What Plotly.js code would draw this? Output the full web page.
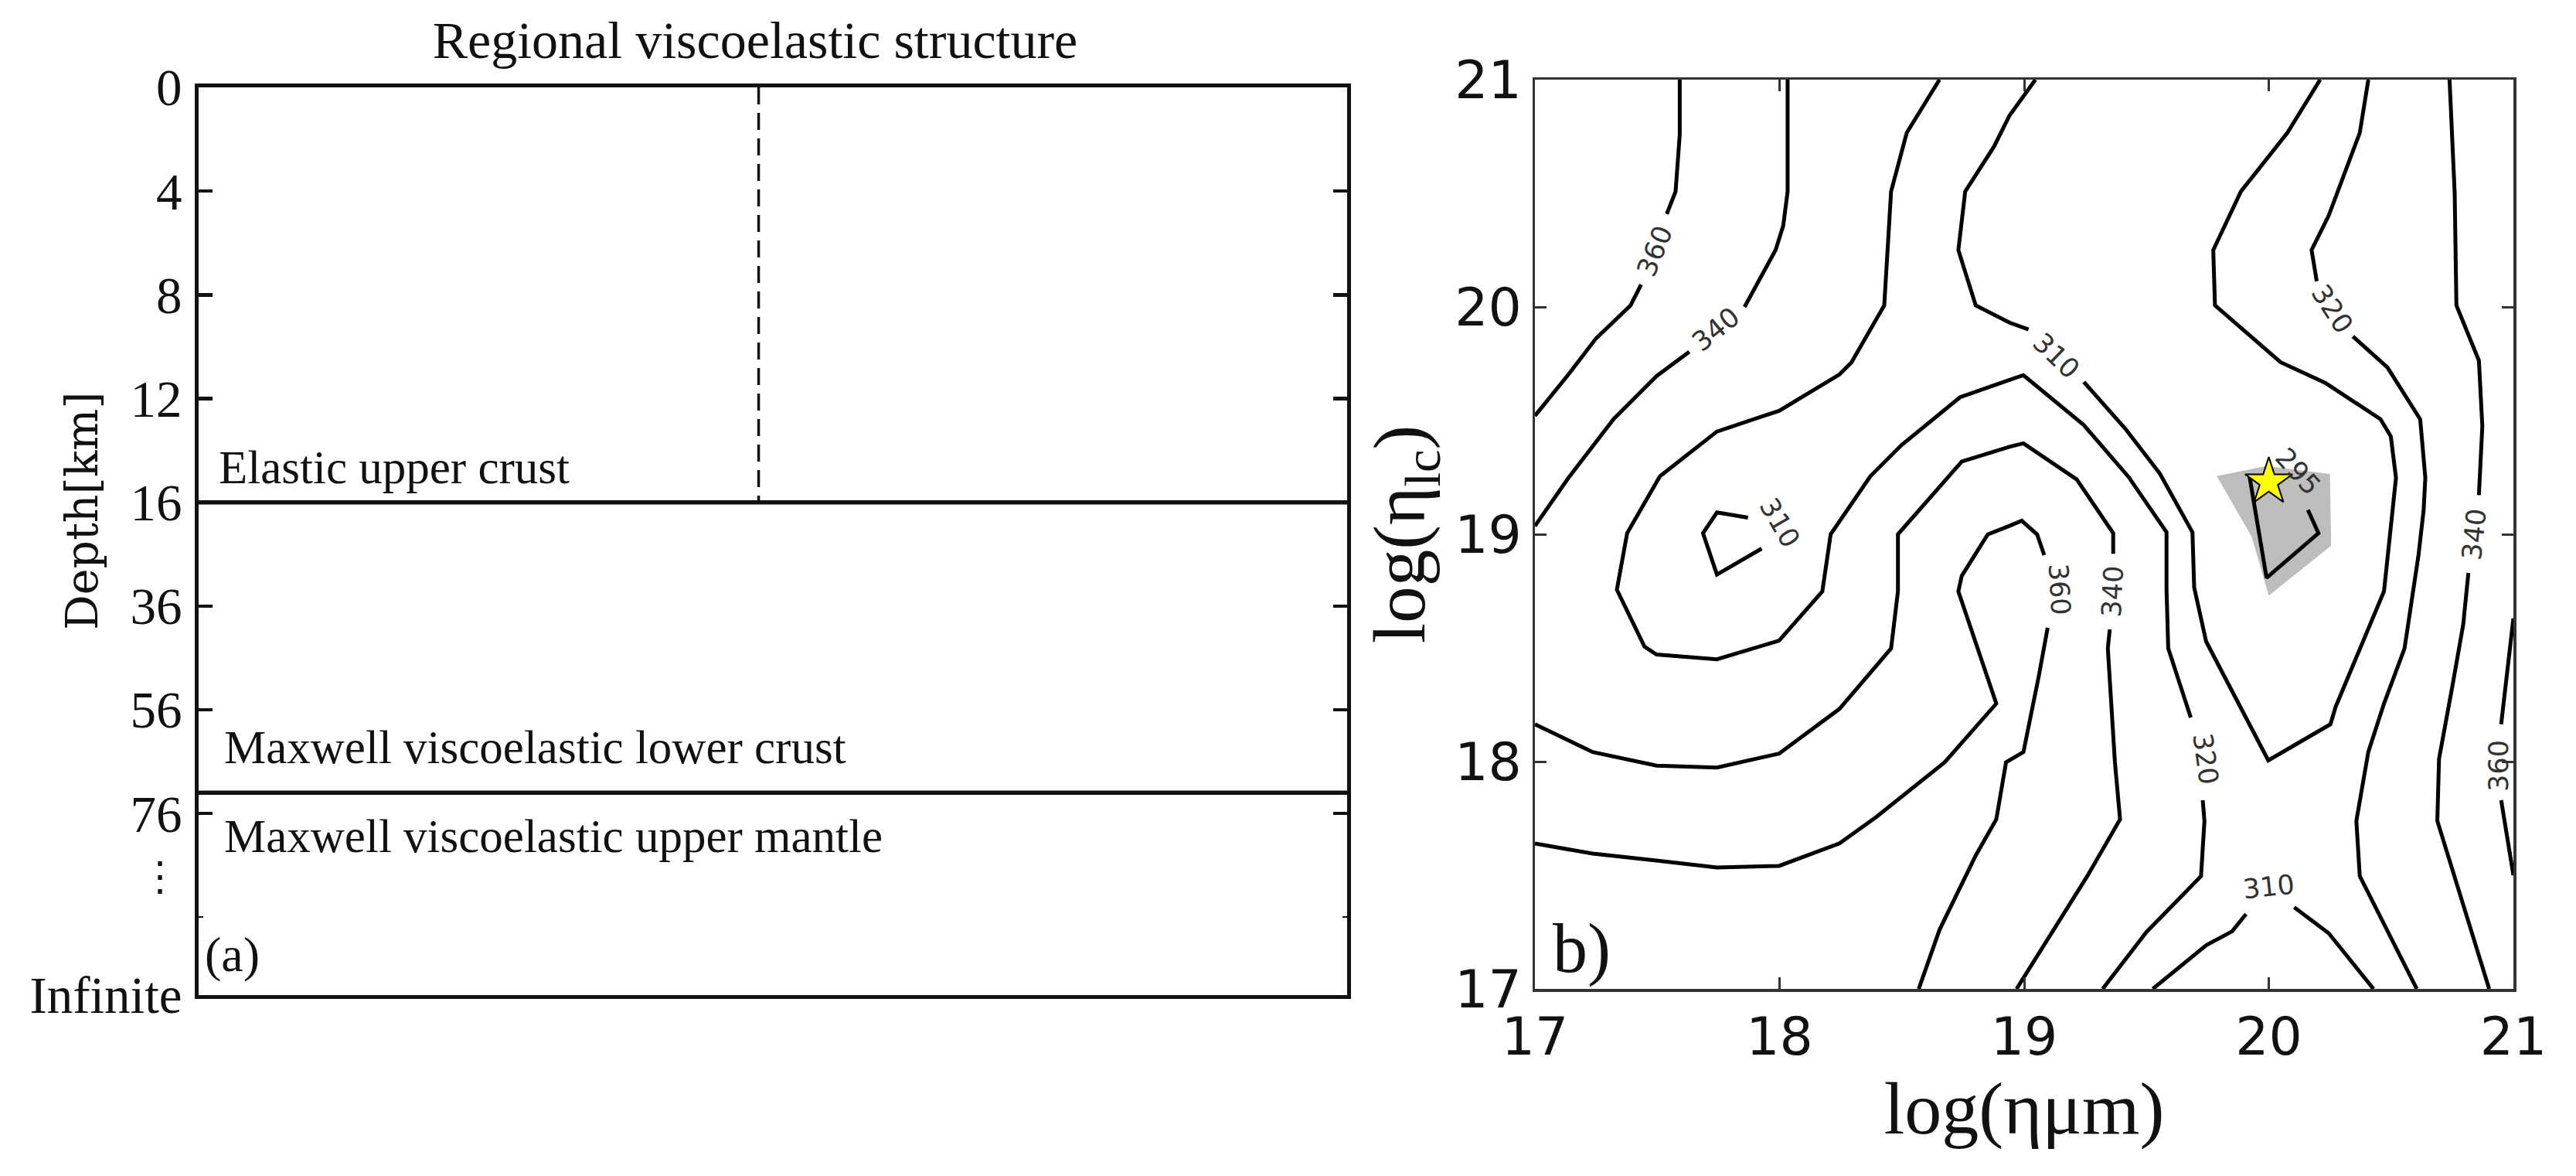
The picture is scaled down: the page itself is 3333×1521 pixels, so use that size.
<!DOCTYPE html>
<html>
<head>
<meta charset="utf-8">
<script src="https://cdn.plot.ly/plotly-3.0.1.min.js"></script>
<style>html,body{margin:0;padding:0;background:#fff;}</style>
</head>
<body>
<div id="chart" style="width:3333px;height:1521px;"></div>
<script>
// ---------- Panel (a): layered structure ----------
const depthTickIndex = [0, 1, 2, 3, 4, 5, 6, 7, 8.75];
const depthTickLabels = ['0', '4', '8', '12', '16', '36', '56', '76', 'Infinite'];
const layerBoundaryIndex = [4, 6.8];          // elastic/lower-crust and lower-crust/mantle boundaries
const faultX = [0.4876, 0.4876];               // dashed fault trace
const faultDepthIndex = [0, 4];
const layerNames = ['Elastic upper crust', 'Maxwell viscoelastic lower crust', 'Maxwell viscoelastic upper mantle'];
const layerNameIndex = [3.66, 6.36, 7.22];

// ---------- Panel (b): misfit contours (log eta_um , log eta_lc) ----------
const c360aX = [17.592, 17.592, 17.575, 17.539, null, 17.434, 17.391, 17.250, 17.137, 17.0];
const c360aY = [21.0, 20.758, 20.508, 20.409, null, 20.098, 20.007, 19.862, 19.703, 19.521];

const c340aX = [18.033, 18.033, 18.015, 17.984, 17.857, null, 17.631, 17.497, 17.321, 17.137, 17.0];
const c340aY = [21.0, 20.508, 20.357, 20.251, 20.0, null, 19.803, 19.696, 19.506, 19.248, 19.036];

const c320aX = [18.654, 18.520, 18.456, 18.442, 18.428, 18.294, 18.245, 17.998, 17.744, 17.511, 17.377, 17.335, 17.448, 17.497, 17.744, 17.998, 18.175, 18.209, 18.371, 18.498, 18.738, 18.940, 18.997, 19.244, 19.427, 19.582, 19.582, 19.589, 19.681, null, 19.730, 19.737, 19.723, 19.50, 19.321];
const c320aY = [21.0, 20.766, 20.508, 20.250, 20.007, 19.756, 19.703, 19.543, 19.452, 19.255, 19.005, 18.756, 18.506, 18.471, 18.450, 18.532, 18.749, 19.0, 19.255, 19.392, 19.603, 19.679, 19.700, 19.480, 19.252, 19.009, 18.756, 18.498, 18.194, null, 17.830, 17.739, 17.496, 17.25, 17.0];

const c340bX = [17.0, 17.236, 17.497, 17.744, 17.998, 18.245, 18.456, 18.484, 18.484, 18.745, 18.940, 18.997, 19.215, 19.364, 19.364, null, 19.350, 19.342, 19.371, 19.392, 19.258, 18.969];
const c340bY = [18.164, 18.042, 17.982, 17.974, 18.035, 18.232, 18.498, 18.749, 19.0, 19.320, 19.385, 19.400, 19.241, 19.005, 18.914, null, 18.582, 18.498, 17.997, 17.746, 17.496, 17.0];

const c360bX = [17.0, 17.236, 17.497, 17.744, 17.998, 18.245, 18.393, 18.675, 18.886, 18.745, 18.731, 18.745, 18.851, 18.940, 18.990, 19.053, 19.082, null, 19.096, 19.060, 18.997, 18.926, 18.886, 18.802, 18.654, 18.569];
const c360bY = [17.640, 17.595, 17.565, 17.534, 17.541, 17.640, 17.754, 17.997, 18.255, 18.695, 18.749, 18.817, 18.999, 19.037, 19.060, 18.999, 18.908, null, 18.589, 18.377, 18.042, 17.997, 17.746, 17.587, 17.260, 17.0];

const c310smallX = [17.871, 17.744, 17.687, 17.744, 17.927];
const c310smallY = [19.073, 19.096, 19.005, 18.823, 18.937];

const c310vX = [19.046, 18.940, 18.877, 18.759, 18.731, 18.802, 18.940, 19.018, null, 19.244, 19.413, 19.554, 19.688, 19.695, 19.744, 19.998, 20.252, 20.273, 20.372, 20.471, 20.506, 20.520, 20.499, 20.457, 20.231, 20.048, 19.780, 19.773, 19.886, 20.076, 20.210];
const c310vY = [21.0, 20.842, 20.706, 20.508, 20.250, 20.007, 19.931, 19.901, null, 19.670, 19.465, 19.268, 19.009, 18.766, 18.528, 18.005, 18.164, 18.240, 18.498, 18.749, 19.105, 19.248, 19.430, 19.506, 19.666, 19.757, 20.007, 20.250, 20.508, 20.766, 21.0];

const c320rX = [20.407, 20.372, 20.245, 20.175, 20.196, null, 20.344, 20.485, 20.619, 20.640, 20.633, 20.612, 20.555, 20.471, 20.407, 20.358, 20.372, 20.605];
const c320rY = [21.0, 20.766, 20.402, 20.250, 20.113, null, 19.870, 19.734, 19.506, 19.248, 19.105, 18.908, 18.498, 18.255, 18.043, 17.739, 17.496, 17.0];

const c340rX = [20.739, 20.760, 20.767, 20.859, 20.873, 20.859, null, 20.816, 20.795, 20.753, 20.696, 20.689, 20.760, 20.901];
const c340rY = [21.0, 20.5, 20.007, 19.764, 19.475, 19.172, null, 18.830, 18.604, 18.346, 18.012, 17.739, 17.496, 17.0];

const c360rX = [21.0, 20.95, null, 20.95, 21.0];
const c360rY = [18.63, 18.164, null, 17.83, 17.50];

const c310bX = [19.526, 19.744, 19.850, 19.907, null, 20.104, 20.245, 20.428];
const c310bY = [17.0, 17.192, 17.253, 17.329, null, 17.359, 17.245, 17.0];

const c295X = [19.921, 19.991, 20.203, 20.160];
const c295Y = [19.256, 18.808, 19.005, 19.107];

const bestRegionX = [19.787, 19.99, 20.25, 20.255, 20.0, 19.93, 19.787];
const bestRegionY = [19.256, 19.30, 19.265, 18.95, 18.73, 18.99, 19.256];

const bestFitX = [20.0];
const bestFitY = [19.23];

const labelText  = ['360', '340', '310', '310', '320', '295', '340', '360', '340', '320', '360', '310'];
const labelX     = [17.49, 17.74, 18.0, 19.13, 20.26, 20.12, 20.84, 19.145, 19.36, 19.74, 20.94, 20.0];
const labelY     = [20.245, 19.90, 19.05, 19.785, 19.99, 19.276, 19.0, 18.756, 18.75, 18.012, 17.98, 17.45];
const labelAngle = [-68, -39, 60, 44, 57, 48, -84, 87, -87, 82, -90, -6];

const bTicks = [17, 18, 19, 20, 21];

// ---------- traces ----------
const traces = [];
// panel a
traces.push({x: [0, 1, null, 0, 1],
  y: [layerBoundaryIndex[0], layerBoundaryIndex[0], null, layerBoundaryIndex[1], layerBoundaryIndex[1]],
  xaxis: 'x', yaxis: 'y', mode: 'lines', line: {color: '#111', width: 5.5}, hoverinfo: 'skip'});
traces.push({x: faultX, y: faultDepthIndex, xaxis: 'x', yaxis: 'y', mode: 'lines',
  line: {color: '#111', width: 3.5, dash: '22px,11px'}, hoverinfo: 'skip'});

// panel b
traces.push({x: bestRegionX, y: bestRegionY, xaxis: 'x2', yaxis: 'y2', mode: 'lines', fill: 'toself',
  fillcolor: '#bdbdbd', line: {width: 0, color: '#bdbdbd'}, hoverinfo: 'skip'});
const lines = [[c360aX, c360aY], [c340aX, c340aY], [c320aX, c320aY], [c340bX, c340bY], [c360bX, c360bY],
  [c310smallX, c310smallY], [c310vX, c310vY], [c320rX, c320rY], [c340rX, c340rY], [c360rX, c360rY],
  [c310bX, c310bY], [c295X, c295Y]];
lines.forEach(([lx, ly]) => traces.push({x: lx, y: ly, xaxis: 'x2', yaxis: 'y2', mode: 'lines',
  connectgaps: false, line: {color: '#000', width: 5}, hoverinfo: 'skip'}));
traces.push({x: bestFitX, y: bestFitY, xaxis: 'x2', yaxis: 'y2', mode: 'markers',
  marker: {symbol: 'star', size: 46, color: '#ffff00', line: {color: '#000', width: 2}}, hoverinfo: 'skip'});

// ---------- annotations ----------
const serif = 'Liberation Serif, Times New Roman, serif';
const ann = [];
layerNames.forEach((t, i) => ann.push({text: t, xref: 'x', yref: 'y', x: i === 0 ? 0.016 : 0.021, y: layerNameIndex[i],
  xanchor: 'left', yanchor: 'middle', showarrow: false, font: {family: serif, size: 61, color: '#111'}}));
ann.push({text: '(a)', xref: 'x', yref: 'y', x: 0.004, y: 8.36, xanchor: 'left', yanchor: 'middle', showarrow: false,
  font: {family: serif, size: 64, color: '#111'}});
ann.push({text: '⋮', xref: 'paper', yref: 'y', x: 207 / 3333, y: 7.6, xanchor: 'center', yanchor: 'middle', showarrow: false,
  font: {family: 'DejaVu Serif', size: 52, color: '#111'}});
ann.push({text: 'Depth[km]', xref: 'paper', yref: 'paper', x: 106 / 3333, y: 1 - 661 / 1521, xanchor: 'center', yanchor: 'middle',
  textangle: -90, showarrow: false, font: {family: 'DejaVu Serif', size: 57, color: '#111'}});
labelText.forEach((t, i) => ann.push({text: t, xref: 'x2', yref: 'y2', x: labelX[i], y: labelY[i], textangle: labelAngle[i],
  showarrow: false, xanchor: 'center', yanchor: 'middle', font: {family: 'DejaVu Sans', size: 35, color: '#333'}}));
ann.push({text: 'b)', xref: 'x2', yref: 'y2', x: 17.065, y: 17.0, xanchor: 'left', yanchor: 'bottom', showarrow: false,
  font: {family: serif, size: 90, color: '#111'}});

const axB = {
  range: [17, 21], tickmode: 'array', tickvals: bTicks, ticktext: bTicks.map(String),
  ticks: 'inside', ticklen: 15, tickwidth: 3, tickcolor: '#333', mirror: 'ticks', showline: true, linewidth: 3.5,
  linecolor: '#333', showgrid: false, zeroline: false, tickfont: {family: 'DejaVu Sans', size: 68, color: '#111'}
};

const layout = {
  width: 3333, height: 1521, margin: {l: 0, r: 0, t: 0, b: 0},
  paper_bgcolor: '#fff', plot_bgcolor: '#fff', showlegend: false,
  title: {text: 'Regional viscoelastic structure', font: {family: serif, size: 68, color: '#111'},
    x: 977 / 3333, xref: 'paper', xanchor: 'center', y: 1 - 51 / 1521, yref: 'container', yanchor: 'middle'},
  xaxis: {domain: [257 / 3333, 1743 / 3333], range: [0, 1], showline: true, mirror: true, linewidth: 5, linecolor: '#111',
    showticklabels: false, ticks: '', showgrid: false, zeroline: false},
  yaxis: {domain: [1 - 1287 / 1521, 1 - 113 / 1521], range: [8.75, 0], tickmode: 'array', tickvals: depthTickIndex,
    ticktext: depthTickLabels, ticks: 'inside', ticklen: 18, tickwidth: 4.5, tickcolor: '#111', mirror: 'ticks',
    showline: true, linewidth: 5, linecolor: '#111', showgrid: false, zeroline: false, ticklabelstandoff: 3,
    tickfont: {family: serif, size: 67, color: '#111'},
    minor: {tickmode: 'array', tickvals: [8], ticks: 'inside', ticklen: 6, tickwidth: 2, tickcolor: '#111'}},
  xaxis2: Object.assign({}, axB, {domain: [1986 / 3333, 3252 / 3333], anchor: 'y2',
    title: {text: 'log(ημm)', font: {family: serif, size: 96, color: '#111'}, standoff: 18}}),
  yaxis2: Object.assign({}, axB, {domain: [1 - 1279 / 1521, 1 - 103 / 1521], anchor: 'x2',
    title: {text: 'log(η<sub>lc</sub>)', font: {family: serif, size: 95, color: '#111'}, standoff: 8}}),
  annotations: ann
};

Plotly.newPlot('chart', traces, layout, {displayModeBar: false, staticPlot: true});
</script>
</body>
</html>
